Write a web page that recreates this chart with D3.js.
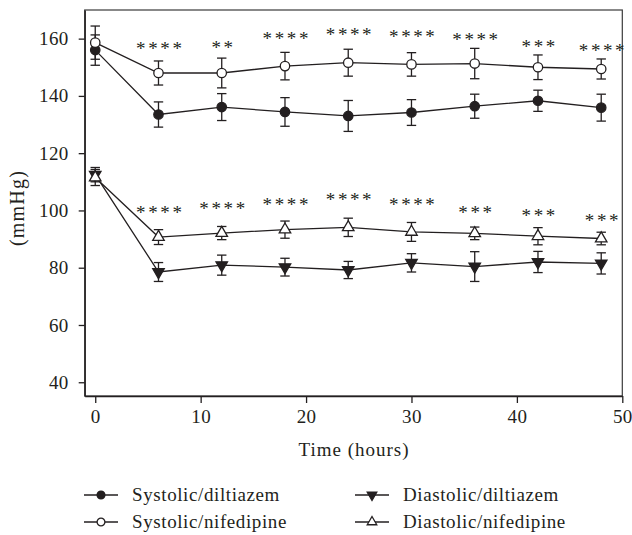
<html>
<head>
    <title>Blood pressure - diltiazem vs nifedipine</title>
    <script src="https://d3js.org/d3.v7.min.js"></script>
    <style>
        body { margin: 0; background: #fff; }
        text { font-family: "Liberation Serif", "Times New Roman", serif; fill: #231f20; }
    </style>
</head>
<body>
    <svg width="632" height="535"></svg>

    <script>
        // time points (hours)
        const hours = [0, 6, 12, 18, 24, 30, 36, 42, 48];

        // means and errors (mmHg)
        const sysDilt     = [156.0, 133.5, 136.1, 134.4, 133.0, 134.2, 136.4, 138.3, 135.9];
        const sysDiltErr  = [5.3, 4.4, 4.7, 5.0, 5.4, 4.5, 4.2, 3.7, 4.7];
        const sysNife     = [158.6, 148.0, 148.0, 150.4, 151.6, 151.0, 151.3, 150.0, 149.4];
        const sysNifeErr  = [5.8, 4.2, 5.2, 4.8, 4.7, 4.1, 5.3, 4.3, 3.5];
        const diaDilt     = [112.5, 78.5, 80.9, 80.2, 79.2, 81.7, 80.4, 82.0, 81.5];
        const diaDiltErr  = [2.5, 3.3, 3.5, 3.1, 3.0, 3.2, 5.2, 3.7, 3.7];
        const diaNife     = [111.5, 90.7, 92.1, 93.3, 94.1, 92.5, 92.0, 91.0, 90.2];
        const diaNifeErr  = [2.8, 2.6, 2.3, 3.0, 3.2, 3.3, 2.2, 3.0, 2.2];

        // significance marks and the level (mmHg) they sit at
        const sysStars      = ["", "****", "**", "****", "****", "****", "****", "***", "****"];
        const sysStarLevel  = [0, 157.8, 158.0, 161.2, 162.6, 162.1, 161.0, 158.6, 157.2];
        const diaStars      = ["", "****", "****", "****", "****", "****", "***", "***", "***"];
        const diaStarLevel  = [0, 100.6, 102.0, 103.2, 104.9, 103.2, 100.6, 99.5, 97.6];

        const xTicks = [0, 10, 20, 30, 40, 50];
        const yTicks = [40, 60, 80, 100, 120, 140, 160];

        const series = [
            { name: "Systolic/diltiazem",  mean: sysDilt, err: sysDiltErr, shape: "circle",   fill: "#231f20" },
            { name: "Systolic/nifedipine", mean: sysNife, err: sysNifeErr, shape: "circle",   fill: "#fff" },
            { name: "Diastolic/diltiazem", mean: diaDilt, err: diaDiltErr, shape: "triDown",  fill: "#231f20" },
            { name: "Diastolic/nifedipine",mean: diaNife, err: diaNifeErr, shape: "triUp",    fill: "#fff" }
        ];

        const ink = "#231f20";
        const svg = d3.select('svg');

        const plotL = 84.7, plotR = 622.3, plotT = 10, plotB = 396;
        const x = d3.scaleLinear().domain([-1, 50]).range([plotL, plotR]);
        const y = d3.scaleLinear().domain([35.2, 170]).range([plotB, plotT]);

        // frame
        svg.append('rect')
            .attr('x', plotL).attr('y', plotT)
            .attr('width', plotR - plotL).attr('height', plotB - plotT)
            .attr('fill', 'none').attr('stroke', '#3a3a3a').attr('stroke-width', 1.2);

        const xAxisG = svg.append('g')
            .attr('transform', `translate(0,${plotB})`)
            .call(d3.axisBottom(x).tickValues(xTicks).tickSize(7).tickSizeOuter(0).tickPadding(7));
        const yAxisG = svg.append('g')
            .attr('transform', `translate(${plotL},0)`)
            .call(d3.axisLeft(y).tickValues(yTicks).tickSize(6).tickSizeOuter(0).tickPadding(10));

        [xAxisG, yAxisG].forEach(g => {
            g.selectAll('path').attr('stroke', ink).attr('stroke-width', 1.4);
            g.selectAll('line').attr('stroke', ink).attr('stroke-width', 1.3);
            g.selectAll('text')
                .style('font-family', '"Liberation Serif", serif')
                .style('font-size', '19px')
                .style('letter-spacing', '0.4px')
                .attr('fill', ink);
        });

        svg.append('text')
            .attr('x', 354).attr('y', 456)
            .attr('text-anchor', 'middle')
            .style('font-size', '19px')
            .style('letter-spacing', '1px')
            .text('Time (hours)');

        svg.append('text')
            .attr('transform', 'translate(24,208) rotate(-90)')
            .attr('text-anchor', 'middle')
            .style('font-size', '20px')
            .style('letter-spacing', '1.2px')
            .text('(mmHg)');

        function marker(sel, shape, fill, r) {
            if (shape === "circle") {
                sel.append('circle').attr('r', r)
                    .attr('fill', fill).attr('stroke', ink).attr('stroke-width', 1.3);
            } else {
                const s = d3.symbol().type(d3.symbolTriangle).size(r * r * 2.6)();
                sel.append('path').attr('d', s)
                    .attr('transform', shape === "triDown" ? 'rotate(180)' : null)
                    .attr('fill', fill).attr('stroke', ink).attr('stroke-width', 1.3);
            }
        }

        const line = d3.line().x(d => x(d[0])).y(d => y(d[1]));
        const capW = 4.7;

        series.forEach(s => {
            const pts = hours.map((h, i) => [h, s.mean[i], s.err[i]]);
            const g = svg.append('g');

            g.append('path')
                .attr('d', line(pts))
                .attr('fill', 'none').attr('stroke', ink).attr('stroke-width', 1.3);

            const eb = g.selectAll('.eb').data(pts).join('g').attr('class', 'eb');
            eb.append('line')
                .attr('x1', d => x(d[0])).attr('x2', d => x(d[0]))
                .attr('y1', d => y(d[1] + d[2])).attr('y2', d => y(d[1] - d[2]));
            eb.append('line')
                .attr('x1', d => x(d[0]) - capW).attr('x2', d => x(d[0]) + capW)
                .attr('y1', d => y(d[1] + d[2])).attr('y2', d => y(d[1] + d[2]));
            eb.append('line')
                .attr('x1', d => x(d[0]) - capW).attr('x2', d => x(d[0]) + capW)
                .attr('y1', d => y(d[1] - d[2])).attr('y2', d => y(d[1] - d[2]));
            eb.selectAll('line').attr('stroke', ink).attr('stroke-width', 1.3);

            pts.forEach(d => {
                const m = g.append('g').attr('transform', `translate(${x(d[0])},${y(d[1])})`);
                marker(m, s.shape, s.fill, 4.7);
            });
        });

        // asterisks
        function stars(labels, levels) {
            svg.append('g').selectAll('text')
                .data(hours.map((h, i) => [h, labels[i], levels[i]]).filter(d => d[1]))
                .join('text')
                .attr('x', d => x(d[0]) + 1.8)
                .attr('y', d => y(d[2]) + 10)
                .attr('text-anchor', 'middle')
                .style('font-size', '19px')
                .style('letter-spacing', '2.6px')
                .attr('fill', '#5a5a5a')
                .text(d => d[1]);
        }
        stars(sysStars, sysStarLevel);
        stars(diaStars, diaStarLevel);

        // legend
        const legendPos = [[84, 495], [84, 522], [355, 495], [355, 522]];
        const legendOrder = [0, 1, 2, 3];
        legendOrder.forEach((si, k) => {
            const s = series[si];
            const [lx, ly] = legendPos[k];
            const g = svg.append('g').attr('transform', `translate(${lx},${ly})`);
            g.append('line').attr('x1', 0).attr('x2', 34).attr('y1', 0).attr('y2', 0)
                .attr('stroke', ink).attr('stroke-width', 1.3);
            const m = g.append('g').attr('transform', 'translate(17,0)');
            marker(m, s.shape, s.fill, 3.9);
            g.append('text').attr('x', 48).attr('y', 6)
                .style('font-size', '19px')
                .style('letter-spacing', '0.6px')
                .text(s.name);
        });
    </script>
</body>
</html>
